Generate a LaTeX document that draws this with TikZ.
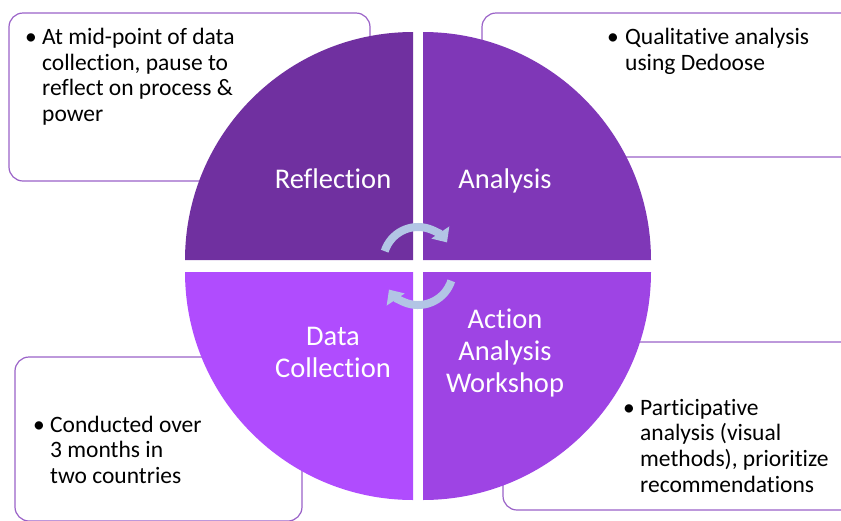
\documentclass[tikz,border=0pt]{standalone}
\usepackage{fontspec}
\setmainfont{Carlito}[Ligatures=NoCommon]
\usetikzlibrary{arrows.meta,calc}
\definecolor{quadA}{HTML}{7030A0}
\definecolor{quadB}{HTML}{7F37B7}
\definecolor{quadC}{HTML}{9E44E4}
\definecolor{quadD}{HTML}{B04CFE}
\definecolor{boxline}{HTML}{9A62C8}
\definecolor{cyclearrow}{HTML}{B2C5E5}
\tikzset{
  notebox/.style={draw=boxline, line width=1.2pt, fill=white, rounded corners=14pt},
  quadlabel/.style={text=white, inner sep=0pt, anchor=base,
    font=\fontsize{28.5}{32}\selectfont},
  notetext/.style={text=black, inner sep=0pt, anchor=base west,
    font=\fontsize{23.5}{25.7}\selectfont},
  cycle/.style={draw=cyclearrow, line width=8pt,
    -{Triangle[length=12pt,width=21pt]}}
}
\newcommand{\bulletlines}[1]{\begin{tabular}[t]{@{}p{17pt}@{}l@{}}\textbullet & #1\end{tabular}}
\begin{document}
\begin{tikzpicture}[x=1pt,y=-1pt]
  \useasboundingbox (0,0) rectangle (841,520);
  \clip (0,0) rectangle (841,520);

  % note boxes behind the cycle
  \draw[notebox] (9,13) rectangle (370,181);
  \draw[notebox] (482,13) rectangle (880,157);
  \draw[notebox] (15,357) rectangle (302,521);
  \draw[notebox] (503,342) rectangle (880,510);

  % four quadrants of the cycle
  \fill[quadA] (413,260) -- ++(-228,0) arc[start angle=180,end angle=270,radius=228] -- cycle;
  \fill[quadB] (423,260) -- ++(0,-228) arc[start angle=270,end angle=360,radius=228] -- cycle;
  \fill[quadC] (423,272) -- ++(228,0) arc[start angle=0,end angle=90,radius=228] -- cycle;
  \fill[quadD] (413,272) -- ++(0,228) arc[start angle=90,end angle=180,radius=228] -- cycle;

  % circular arrows in the middle
  \coordinate (ctop) at (418,262);
  \coordinate (cbot) at (418,270);
  \draw[cycle] ($(ctop)+(198:35)$) arc[start angle=198,end angle=326,radius=35];
  \draw[cycle] ($(cbot)+(18:35)$) arc[start angle=18,end angle=146,radius=35];

  % quadrant titles
  \node[quadlabel] (reflection) at (333,188.5) {Reflection};
  \node[quadlabel] (analysis) at (505,188.5) {Analysis};
  \node[quadlabel] (datacoll) at (333,345) {\begin{tabular}[t]{@{}c@{}}Data\\Collection\end{tabular}};
  \node[quadlabel] (workshop) at (505,328) {\begin{tabular}[t]{@{}c@{}}Action\\Analysis\\Workshop\end{tabular}};

  % notes
  \node[notetext] (noteA) at (25,44.5) {\bulletlines{At mid-point of data\\ & collection, pause to\\ & reflect on process \&\\ & power}};
  \node[notetext] (noteB) at (607,44.5) {\begin{tabular}[t]{@{}p{18pt}@{}l@{}}\textbullet & Qualitative analysis\\ & using Dedoose\end{tabular}};
  \node[notetext] (noteC) at (33,432) {\bulletlines{Conducted over\\ & 3 months in\\ & two countries}};
  \node[notetext] (noteD) at (623,415) {\bulletlines{Participative\\ & analysis (visual\\ & methods), prioritize\\ & recommendations}};
\end{tikzpicture}
\end{document}
